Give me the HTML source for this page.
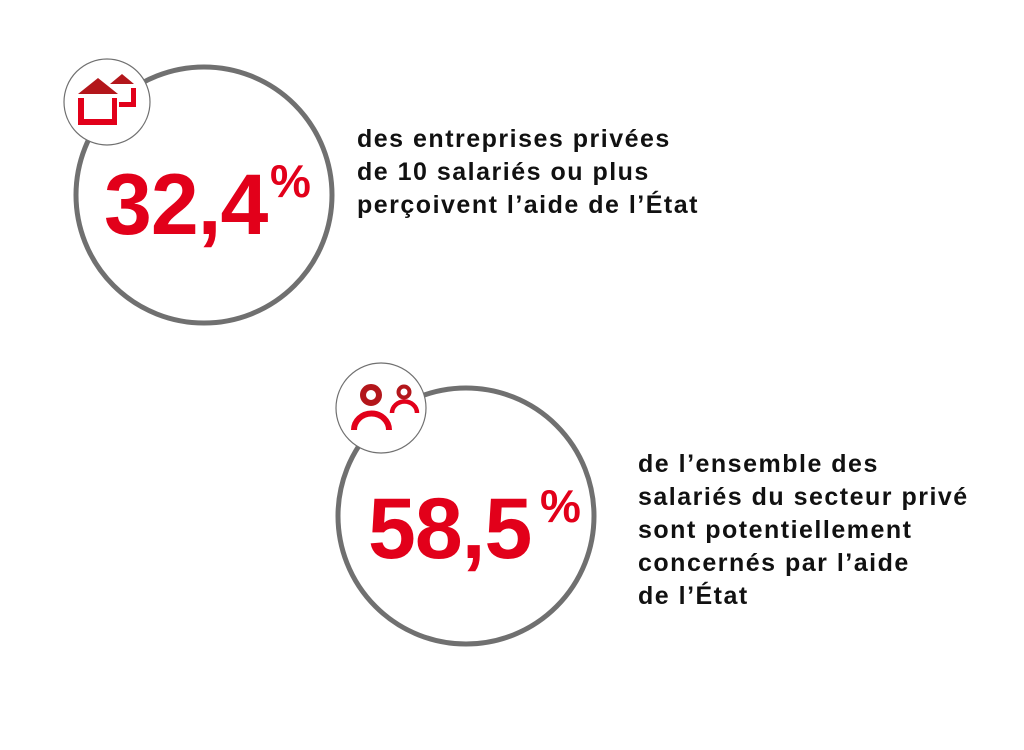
<!DOCTYPE html>
<html><head><meta charset="utf-8"><style>
body{margin:0;width:1024px;height:750px;background:#fff;position:relative;overflow:hidden;font-family:"Liberation Sans",sans-serif}
.t{position:absolute;font-size:25px;font-weight:bold;color:#111;line-height:33px;letter-spacing:1.5px}
.n{position:absolute;font-weight:bold;color:#e2001a;font-size:86px;letter-spacing:-1px;line-height:1}
.p{position:absolute;font-weight:bold;color:#e2001a;font-size:46px;line-height:1}
</style></head><body>
<svg width="1024" height="750" style="position:absolute;left:0;top:0">
<circle cx="204" cy="195" r="128" fill="none" stroke="#707070" stroke-width="5"/>
<circle cx="107" cy="102" r="43" fill="#fff" stroke="#707070" stroke-width="1.2"/>
<polygon points="78,94 98,78 118,94" fill="#b3161b"/>
<polygon points="110,84 122,74 134,84" fill="#b3161b"/>
<path d="M78,98 V125 H117 V98 H112 V119 H84 V98 Z" fill="#e2001a"/>
<path d="M119,102 H131 V88 H136 V107 H119 Z" fill="#e2001a"/>
<circle cx="466" cy="516" r="128" fill="none" stroke="#707070" stroke-width="5"/>
<circle cx="381" cy="408" r="45" fill="#fff" stroke="#707070" stroke-width="1.2"/>
<circle cx="371" cy="395" r="8" fill="none" stroke="#b3161b" stroke-width="6"/>
<path d="M354,430 A17,16 0 0 1 389,430" fill="none" stroke="#e2001a" stroke-width="6"/>
<circle cx="404" cy="392" r="5.5" fill="none" stroke="#b3161b" stroke-width="4"/>
<path d="M392,413 A12,11 0 0 1 417,413" fill="none" stroke="#e2001a" stroke-width="4.5"/>
</svg>
<div class="n" style="left:104px;top:162px">32,4</div>
<div class="p" style="left:270px;top:158px">%</div>
<div class="n" style="left:368px;top:486px">58,5</div>
<div class="p" style="left:540px;top:483px">%</div>
<div class="t" style="left:357px;top:123px">des entreprises privées<br>de 10 salariés ou plus<br>perçoivent l’aide de l’État</div>
<div class="t" style="left:638px;top:448px">de l’ensemble des<br>salariés du secteur privé<br>sont potentiellement<br>concernés par l’aide<br>de l’État</div>
</body></html>
